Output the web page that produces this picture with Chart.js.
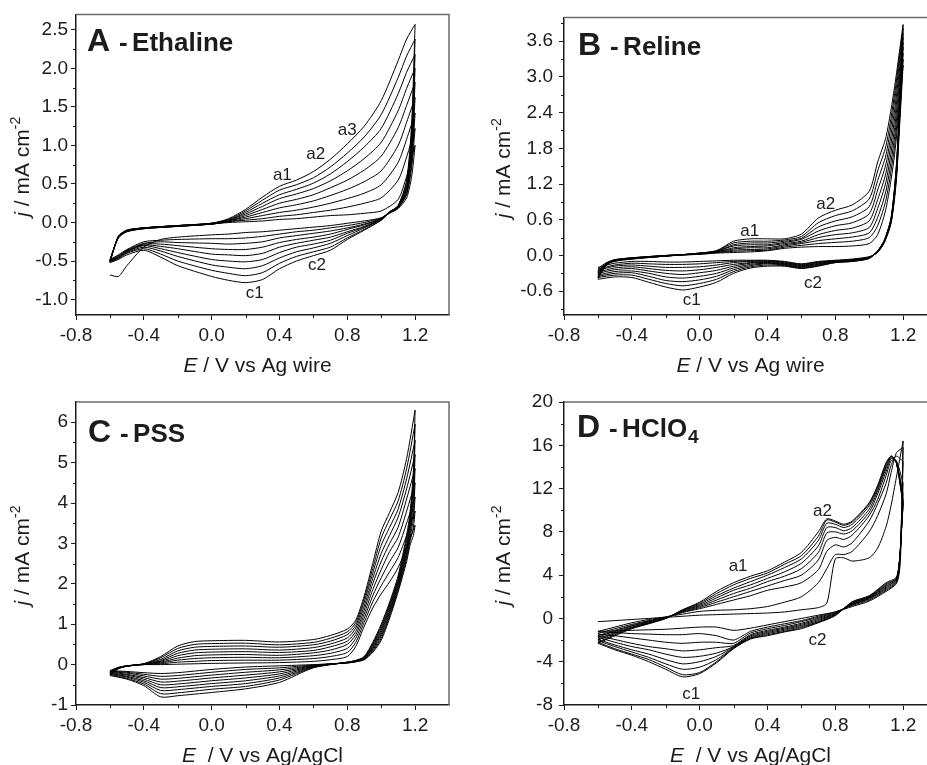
<!DOCTYPE html>
<html>
<head>
<meta charset="utf-8">
<script src="https://cdn.jsdelivr.net/npm/chart.js@4.4.1/dist/chart.umd.min.js"></script>
<style>
  html, body { margin: 0; padding: 0; background: #fff; width: 927px; height: 765px; overflow: hidden; }
  .panel { position: absolute; }
</style>
</head>
<body>
<div class="panel" style="left:0;top:0"><canvas id="chartA" width="463" height="382"></canvas></div>
<div class="panel" style="left:463px;top:0"><canvas id="chartB" width="474" height="382"></canvas></div>
<div class="panel" style="left:0;top:382px"><canvas id="chartC" width="463" height="383"></canvas></div>
<div class="panel" style="left:463px;top:382px"><canvas id="chartD" width="474" height="383"></canvas></div>
<script>
// shared E axis
const xTicks = [-0.8, -0.4, 0, 0.4, 0.8, 1.2];
const xMinor = [-0.6, -0.2, 0.2, 0.6, 1.0];

// ---- A - Ethaline (j in mA cm-2), 9 cycles: forward sweep then reverse sweep
const eFwdA = [-0.6, -0.55, -0.5, -0.4, -0.2, 0, 0.1, 0.2, 0.3, 0.4, 0.5, 0.6, 0.7, 0.8, 0.9, 1.0, 1.1, 1.15, 1.2];
const eRevA = [1.2, 1.18, 1.15, 1.1, 1.05, 1.0, 0.9, 0.8, 0.7, 0.6, 0.5, 0.4, 0.3, 0.2, 0.1, 0, -0.2, -0.3, -0.4, -0.5, -0.55, -0.6];
const jFwdA = [
  [-0.5, -0.2, -0.12, -0.08, -0.05, -0.02, 0.0, 0.01, 0.02, 0.04, 0.05, 0.07, 0.09, 0.1, 0.12, 0.15, 0.3, 0.6, 1.0],
  [-0.48, -0.2, -0.12, -0.08, -0.05, -0.02, 0.01, 0.03, 0.05, 0.08, 0.1, 0.13, 0.16, 0.2, 0.25, 0.32, 0.55, 0.85, 1.22],
  [-0.49, -0.19, -0.11, -0.08, -0.05, -0.02, 0.01, 0.05, 0.09, 0.13, 0.16, 0.2, 0.25, 0.31, 0.38, 0.49, 0.78, 1.08, 1.42],
  [-0.5, -0.19, -0.11, -0.07, -0.05, -0.02, 0.02, 0.07, 0.13, 0.19, 0.23, 0.28, 0.35, 0.43, 0.53, 0.67, 1.0, 1.3, 1.62],
  [-0.5, -0.19, -0.11, -0.07, -0.04, -0.02, 0.02, 0.09, 0.17, 0.25, 0.3, 0.36, 0.45, 0.55, 0.68, 0.86, 1.23, 1.52, 1.82],
  [-0.5, -0.18, -0.11, -0.07, -0.04, -0.01, 0.03, 0.11, 0.21, 0.31, 0.37, 0.44, 0.54, 0.67, 0.83, 1.04, 1.45, 1.74, 2.0],
  [-0.51, -0.18, -0.1, -0.07, -0.04, -0.01, 0.03, 0.13, 0.25, 0.36, 0.43, 0.51, 0.63, 0.79, 0.98, 1.22, 1.67, 1.95, 2.18],
  [-0.51, -0.18, -0.1, -0.07, -0.04, -0.01, 0.04, 0.15, 0.29, 0.42, 0.49, 0.58, 0.72, 0.9, 1.11, 1.4, 1.88, 2.16, 2.38],
  [-0.52, -0.18, -0.1, -0.07, -0.04, -0.01, 0.05, 0.17, 0.33, 0.47, 0.55, 0.66, 0.82, 1.02, 1.25, 1.58, 2.1, 2.38, 2.57]
];
const jRevA = [
  [1.0, 0.6, 0.32, 0.18, 0.12, 0.06, 0.02, -0.01, -0.04, -0.06, -0.08, -0.1, -0.12, -0.13, -0.15, -0.16, -0.19, -0.22, -0.32, -0.56, -0.7, -0.68],
  [1.22, 0.72, 0.36, 0.19, 0.13, 0.06, 0.0, -0.04, -0.07, -0.1, -0.12, -0.15, -0.18, -0.2, -0.21, -0.21, -0.22, -0.23, -0.25, -0.35, -0.42, -0.48],
  [1.42, 0.8, 0.38, 0.19, 0.13, 0.05, -0.02, -0.07, -0.11, -0.14, -0.17, -0.2, -0.25, -0.27, -0.28, -0.27, -0.26, -0.25, -0.27, -0.36, -0.43, -0.49],
  [1.62, 0.88, 0.4, 0.2, 0.13, 0.05, -0.03, -0.09, -0.15, -0.19, -0.22, -0.26, -0.32, -0.35, -0.35, -0.34, -0.3, -0.28, -0.28, -0.37, -0.44, -0.5],
  [1.82, 0.95, 0.43, 0.2, 0.14, 0.05, -0.05, -0.12, -0.19, -0.23, -0.27, -0.32, -0.4, -0.43, -0.42, -0.41, -0.34, -0.31, -0.29, -0.37, -0.45, -0.5],
  [2.0, 1.02, 0.45, 0.21, 0.14, 0.04, -0.06, -0.14, -0.23, -0.28, -0.32, -0.39, -0.48, -0.51, -0.5, -0.48, -0.39, -0.34, -0.3, -0.38, -0.45, -0.5],
  [2.18, 1.1, 0.48, 0.21, 0.14, 0.04, -0.07, -0.17, -0.27, -0.33, -0.38, -0.46, -0.56, -0.6, -0.58, -0.55, -0.44, -0.37, -0.32, -0.39, -0.46, -0.51],
  [2.38, 1.2, 0.52, 0.22, 0.13, 0.03, -0.09, -0.2, -0.32, -0.38, -0.44, -0.53, -0.65, -0.69, -0.66, -0.62, -0.5, -0.41, -0.34, -0.4, -0.47, -0.51],
  [2.57, 1.3, 0.55, 0.22, 0.13, 0.03, -0.1, -0.22, -0.36, -0.43, -0.5, -0.6, -0.74, -0.78, -0.75, -0.7, -0.56, -0.45, -0.36, -0.42, -0.48, -0.52]
];
const yTicksA = [-1.0, -0.5, 0, 0.5, 1.0, 1.5, 2.0, 2.5];
const yMinorA = [-0.75, -0.25, 0.25, 0.75, 1.25, 1.75, 2.25];
const annA = ['a1', 'a2', 'a3', 'c1', 'c2'];
const annEA = [0.417, 0.614, 0.80, 0.254, 0.622];
const annJA = [0.61, 0.89, 1.19, -0.92, -0.56];

// ---- B - Reline
const eFwdB = [-0.6, -0.55, -0.5, -0.4, -0.2, 0, 0.1, 0.2, 0.3, 0.4, 0.5, 0.6, 0.7, 0.8, 0.9, 1.0, 1.05, 1.1, 1.15, 1.2];
const eRevB = [1.2, 1.18, 1.16, 1.13, 1.09, 1.05, 1.0, 0.9, 0.8, 0.7, 0.6, 0.5, 0.4, 0.3, 0.2, 0.1, 0, -0.1, -0.2, -0.3, -0.4, -0.5, -0.6];
const jFwdB = [
  [-0.22, -0.12, -0.07, -0.04, 0.0, 0.02, 0.04, 0.05, 0.06, 0.08, 0.12, 0.14, 0.15, 0.15, 0.16, 0.2, 0.35, 0.8, 1.7, 3.2],
  [-0.25, -0.13, -0.07, -0.04, 0.0, 0.02, 0.05, 0.07, 0.08, 0.09, 0.14, 0.17, 0.2, 0.22, 0.24, 0.3, 0.5, 0.95, 1.85, 3.3],
  [-0.27, -0.13, -0.08, -0.04, 0.0, 0.03, 0.05, 0.09, 0.1, 0.11, 0.16, 0.2, 0.25, 0.28, 0.31, 0.38, 0.64, 1.1, 2.0, 3.4],
  [-0.29, -0.14, -0.08, -0.05, 0.0, 0.03, 0.06, 0.11, 0.13, 0.13, 0.18, 0.22, 0.3, 0.35, 0.38, 0.47, 0.79, 1.25, 2.15, 3.5],
  [-0.31, -0.14, -0.08, -0.05, -0.01, 0.03, 0.06, 0.13, 0.15, 0.16, 0.2, 0.24, 0.35, 0.42, 0.46, 0.58, 0.94, 1.4, 2.3, 3.58],
  [-0.33, -0.15, -0.09, -0.05, -0.01, 0.03, 0.07, 0.16, 0.18, 0.18, 0.22, 0.27, 0.41, 0.5, 0.55, 0.7, 1.1, 1.55, 2.45, 3.66],
  [-0.35, -0.15, -0.09, -0.05, -0.01, 0.04, 0.07, 0.18, 0.21, 0.21, 0.24, 0.29, 0.48, 0.58, 0.65, 0.82, 1.26, 1.7, 2.6, 3.74],
  [-0.37, -0.16, -0.09, -0.06, -0.01, 0.04, 0.08, 0.21, 0.24, 0.24, 0.26, 0.32, 0.55, 0.67, 0.75, 0.95, 1.42, 1.85, 2.72, 3.82],
  [-0.39, -0.16, -0.1, -0.06, -0.01, 0.04, 0.08, 0.24, 0.28, 0.28, 0.28, 0.36, 0.63, 0.76, 0.85, 1.08, 1.57, 2.0, 2.84, 3.88]
];
const jRevB = [
  [3.2, 2.2, 1.25, 0.55, 0.22, 0.05, -0.02, -0.06, -0.08, -0.1, -0.14, -0.1, -0.08, -0.08, -0.08, -0.09, -0.1, -0.11, -0.11, -0.1, -0.1, -0.13, -0.2],
  [3.3, 2.3, 1.3, 0.57, 0.23, 0.06, -0.03, -0.07, -0.09, -0.11, -0.15, -0.11, -0.09, -0.09, -0.1, -0.12, -0.14, -0.15, -0.15, -0.14, -0.13, -0.16, -0.23],
  [3.4, 2.35, 1.33, 0.58, 0.23, 0.06, -0.03, -0.07, -0.09, -0.12, -0.16, -0.12, -0.1, -0.1, -0.12, -0.16, -0.19, -0.2, -0.2, -0.18, -0.16, -0.18, -0.25],
  [3.5, 2.4, 1.36, 0.6, 0.24, 0.06, -0.03, -0.08, -0.1, -0.13, -0.17, -0.13, -0.11, -0.12, -0.15, -0.2, -0.24, -0.26, -0.25, -0.22, -0.19, -0.21, -0.28],
  [3.58, 2.45, 1.4, 0.61, 0.24, 0.07, -0.04, -0.08, -0.1, -0.14, -0.18, -0.14, -0.12, -0.13, -0.18, -0.25, -0.29, -0.32, -0.3, -0.26, -0.22, -0.24, -0.3],
  [3.66, 2.5, 1.42, 0.62, 0.25, 0.07, -0.04, -0.09, -0.11, -0.15, -0.19, -0.15, -0.13, -0.15, -0.21, -0.3, -0.35, -0.38, -0.36, -0.3, -0.26, -0.27, -0.33],
  [3.74, 2.5, 1.45, 0.63, 0.25, 0.07, -0.04, -0.09, -0.11, -0.16, -0.2, -0.16, -0.14, -0.17, -0.24, -0.35, -0.41, -0.44, -0.42, -0.35, -0.29, -0.3, -0.35],
  [3.82, 2.55, 1.48, 0.64, 0.26, 0.08, -0.05, -0.1, -0.12, -0.17, -0.21, -0.17, -0.16, -0.19, -0.27, -0.4, -0.47, -0.51, -0.47, -0.4, -0.33, -0.33, -0.37],
  [3.88, 2.6, 1.5, 0.65, 0.26, 0.08, -0.05, -0.1, -0.12, -0.18, -0.22, -0.18, -0.18, -0.21, -0.3, -0.45, -0.53, -0.58, -0.53, -0.45, -0.37, -0.36, -0.4]
];
const yTicksB = [-0.6, 0, 0.6, 1.2, 1.8, 2.4, 3.0, 3.6];
const yMinorB = [-0.9, -0.3, 0.3, 0.9, 1.5, 2.1, 2.7, 3.3, 3.9];
const annB = ['a1', 'a2', 'c1', 'c2'];
const annEB = [0.295, 0.744, -0.047, 0.669];
const annJB = [0.40, 0.86, -0.745, -0.47];

// ---- C - PSS
const eFwdC = [-0.6, -0.55, -0.5, -0.4, -0.3, -0.2, -0.1, 0, 0.2, 0.4, 0.6, 0.7, 0.8, 0.85, 0.9, 0.95, 1.0, 1.05, 1.1, 1.15, 1.2];
const eRevC = [1.2, 1.19, 1.17, 1.15, 1.1, 1.05, 1.0, 0.95, 0.9, 0.85, 0.8, 0.6, 0.4, 0.2, 0, -0.2, -0.3, -0.4, -0.5, -0.6];
const jFwdC = [
  [-0.15, -0.07, -0.03, 0.0, 0.0, 0.01, 0.02, 0.03, 0.04, 0.05, 0.08, 0.12, 0.2, 0.45, 0.95, 1.4, 1.75, 2.05, 2.4, 2.9, 3.45],
  [-0.16, -0.07, -0.03, 0.0, 0.02, 0.06, 0.08, 0.1, 0.11, 0.11, 0.15, 0.2, 0.3, 0.55, 1.05, 1.55, 1.95, 2.3, 2.65, 3.2, 3.8],
  [-0.18, -0.08, -0.03, 0.0, 0.04, 0.11, 0.15, 0.17, 0.18, 0.17, 0.22, 0.28, 0.4, 0.65, 1.15, 1.7, 2.15, 2.55, 2.9, 3.5, 4.15],
  [-0.19, -0.08, -0.03, 0.01, 0.06, 0.16, 0.22, 0.24, 0.25, 0.23, 0.29, 0.36, 0.5, 0.74, 1.25, 1.85, 2.35, 2.8, 3.15, 3.8, 4.5],
  [-0.21, -0.09, -0.04, 0.01, 0.08, 0.22, 0.29, 0.31, 0.32, 0.3, 0.35, 0.44, 0.58, 0.82, 1.35, 2.0, 2.55, 3.0, 3.4, 4.1, 4.85],
  [-0.22, -0.09, -0.04, 0.01, 0.1, 0.28, 0.36, 0.38, 0.39, 0.36, 0.42, 0.51, 0.66, 0.9, 1.45, 2.13, 2.75, 3.2, 3.65, 4.35, 5.2],
  [-0.24, -0.1, -0.04, 0.02, 0.13, 0.34, 0.43, 0.45, 0.46, 0.43, 0.49, 0.58, 0.74, 0.97, 1.55, 2.26, 2.95, 3.4, 3.85, 4.6, 5.55],
  [-0.25, -0.1, -0.04, 0.02, 0.17, 0.4, 0.5, 0.52, 0.53, 0.49, 0.55, 0.65, 0.81, 1.04, 1.63, 2.38, 3.13, 3.6, 4.05, 4.85, 5.95],
  [-0.27, -0.1, -0.04, 0.02, 0.2, 0.46, 0.57, 0.59, 0.6, 0.56, 0.62, 0.72, 0.88, 1.1, 1.7, 2.5, 3.3, 3.77, 4.26, 5.1, 6.3]
];
const jRevC = [
  [3.45, 3.2, 2.95, 2.55, 1.8, 1.15, 0.6, 0.3, 0.12, 0.07, 0.04, 0.0, -0.03, -0.06, -0.12, -0.2, -0.22, -0.2, -0.17, -0.15],
  [3.8, 3.4, 3.05, 2.63, 1.85, 1.2, 0.65, 0.33, 0.13, 0.07, 0.04, -0.01, -0.08, -0.12, -0.19, -0.27, -0.29, -0.24, -0.19, -0.16],
  [4.15, 3.6, 3.15, 2.7, 1.9, 1.25, 0.7, 0.36, 0.14, 0.08, 0.05, -0.02, -0.13, -0.19, -0.26, -0.34, -0.36, -0.28, -0.21, -0.18],
  [4.5, 3.8, 3.25, 2.78, 1.95, 1.3, 0.75, 0.39, 0.15, 0.08, 0.05, -0.03, -0.18, -0.26, -0.33, -0.41, -0.43, -0.32, -0.24, -0.19],
  [4.85, 4.0, 3.35, 2.85, 2.0, 1.35, 0.8, 0.42, 0.16, 0.09, 0.05, -0.04, -0.23, -0.33, -0.4, -0.48, -0.5, -0.36, -0.26, -0.21],
  [5.2, 4.2, 3.45, 2.92, 2.05, 1.4, 0.85, 0.45, 0.17, 0.09, 0.05, -0.05, -0.28, -0.4, -0.47, -0.55, -0.57, -0.4, -0.29, -0.22],
  [5.55, 4.4, 3.55, 3.0, 2.1, 1.45, 0.9, 0.48, 0.18, 0.1, 0.06, -0.06, -0.33, -0.47, -0.54, -0.62, -0.64, -0.44, -0.31, -0.24],
  [5.95, 4.6, 3.65, 3.1, 2.15, 1.5, 0.95, 0.51, 0.19, 0.1, 0.06, -0.07, -0.38, -0.54, -0.61, -0.7, -0.72, -0.48, -0.34, -0.25],
  [6.3, 4.8, 3.75, 3.2, 2.2, 1.55, 1.0, 0.55, 0.2, 0.1, 0.06, -0.08, -0.44, -0.6, -0.69, -0.77, -0.8, -0.52, -0.36, -0.27]
];
const yTicksC = [-1, 0, 1, 2, 3, 4, 5, 6];
const yMinorC = [-0.5, 0.5, 1.5, 2.5, 3.5, 4.5, 5.5];

// ---- D - HClO4
const eFwdD = [-0.6, -0.5, -0.4, -0.3, -0.2, -0.1, 0, 0.1, 0.2, 0.3, 0.4, 0.5, 0.6, 0.7, 0.75, 0.8, 0.85, 0.9, 1.0, 1.05, 1.1, 1.13, 1.16, 1.2];
const eRevD = [1.2, 1.19, 1.18, 1.16, 1.1, 1.0, 0.9, 0.8, 0.7, 0.6, 0.5, 0.4, 0.3, 0.2, 0.1, 0, -0.1, -0.2, -0.3, -0.4, -0.5, -0.6];
const jFwdD = [
  [-0.3, -0.2, -0.1, 0, 0.1, 0.2, 0.3, 0.35, 0.4, 0.45, 0.5, 0.6, 0.8, 1.0, 1.4, 5.5, 5.6, 5.3, 5.6, 6.5, 8.5, 10.5, 13.0, 16.4],
  [-1.2, -0.8, -0.4, -0.1, 0.15, 0.4, 0.65, 0.75, 0.8, 0.9, 1.1, 1.5, 2.0, 3.3, 4.6, 5.9, 5.9, 6.2, 8.0, 9.5, 11.5, 13.5, 15.3, 15.8],
  [-1.4, -0.95, -0.55, -0.2, 0.1, 0.55, 0.9, 1.3, 1.7, 2.1, 2.6, 2.9, 3.3, 4.5, 6.2, 6.8, 6.6, 7.0, 9.0, 10.6, 12.5, 14.2, 15.0, 14.5],
  [-1.6, -1.1, -0.65, -0.25, 0.1, 0.6, 1.0, 1.5, 2.0, 2.5, 3.0, 3.5, 4.0, 5.4, 7.2, 7.5, 7.3, 7.7, 9.5, 11.0, 13.2, 14.6, 14.6, 12.5],
  [-1.7, -1.2, -0.7, -0.3, 0.05, 0.65, 1.1, 1.7, 2.3, 2.8, 3.4, 3.9, 4.6, 6.1, 7.9, 8.0, 7.8, 8.1, 9.8, 11.5, 13.6, 14.8, 14.5, 11.5],
  [-1.9, -1.3, -0.8, -0.35, 0.0, 0.7, 1.2, 1.9, 2.6, 3.1, 3.7, 4.3, 5.1, 6.7, 8.4, 8.4, 8.1, 8.4, 10.1, 11.8, 13.9, 14.9, 14.4, 11.0],
  [-2.0, -1.4, -0.85, -0.4, 0.0, 0.75, 1.3, 2.1, 2.8, 3.4, 4.0, 4.7, 5.5, 7.2, 8.8, 8.7, 8.4, 8.7, 10.4, 12.0, 14.1, 15.0, 14.4, 10.8],
  [-2.2, -1.5, -0.9, -0.45, 0.0, 0.8, 1.4, 2.3, 3.1, 3.7, 4.2, 5.0, 5.8, 7.6, 9.1, 8.9, 8.6, 8.9, 10.6, 12.2, 14.3, 15.0, 14.4, 10.6],
  [-2.3, -1.6, -0.95, -0.5, 0.0, 0.8, 1.5, 2.5, 3.3, 3.9, 4.4, 5.2, 6.1, 8.0, 9.2, 9.0, 8.7, 9.0, 10.7, 12.3, 14.4, 15.0, 14.4, 10.5]
];
const jRevD = [
  [16.4, 8, 4.5, 3.2, 2.5, 1.6, 1.1, 0.6, 0.3, 0.0, -0.3, -0.6, -0.9, -1.1, -0.8, -0.8, -0.9, -1.0, -1.05, -1.1, -1.15, -1.2],
  [15.8, 9, 5, 3.3, 2.6, 1.7, 1.2, 0.6, 0.2, -0.2, -0.5, -0.8, -1.2, -2.0, -1.6, -1.4, -1.5, -1.5, -1.45, -1.4, -1.3, -1.25],
  [14.5, 9, 5.5, 3.4, 2.7, 1.8, 1.25, 0.55, 0.1, -0.3, -0.65, -0.95, -1.35, -2.3, -2.2, -2.2, -2.3, -2.2, -2.0, -1.8, -1.6, -1.45],
  [12.5, 8.5, 5.5, 3.5, 2.8, 1.85, 1.3, 0.5, 0.0, -0.45, -0.8, -1.1, -1.5, -2.5, -2.7, -2.9, -3.0, -2.8, -2.6, -2.3, -1.95, -1.6],
  [11.5, 8, 5.5, 3.6, 2.9, 1.9, 1.35, 0.45, -0.1, -0.55, -0.9, -1.2, -1.6, -2.6, -3.2, -3.5, -3.6, -3.3, -2.9, -2.6, -2.2, -1.75],
  [11, 8, 5.5, 3.6, 3.0, 1.95, 1.4, 0.4, -0.2, -0.65, -1.0, -1.3, -1.7, -2.65, -3.5, -4.0, -4.2, -3.8, -3.3, -2.9, -2.45, -1.95],
  [10.8, 8, 5.5, 3.7, 3.1, 2.0, 1.45, 0.35, -0.3, -0.75, -1.1, -1.4, -1.8, -2.7, -3.8, -4.5, -4.7, -4.2, -3.6, -3.1, -2.6, -2.05],
  [10.6, 8, 5.5, 3.7, 3.2, 2.05, 1.5, 0.3, -0.35, -0.85, -1.2, -1.5, -1.85, -2.75, -4.0, -5.0, -5.2, -4.5, -3.8, -3.3, -2.8, -2.2],
  [10.5, 8, 5.5, 3.8, 3.3, 2.1, 1.55, 0.25, -0.4, -0.95, -1.25, -1.6, -1.9, -2.8, -4.1, -5.1, -5.4, -4.7, -4.0, -3.4, -2.9, -2.3]
];
const yTicksD = [-8, -4, 0, 4, 8, 12, 16, 20];
const yMinorD = [-6, -2, 2, 6, 10, 14, 18];
const annD = ['a1', 'a2', 'c1', 'c2'];
const annED = [0.227, 0.724, -0.049, 0.695];
const annJD = [4.8, 9.9, -7.0, -2.05];

const FONT = '"Liberation Sans", Arial, sans-serif';
const INK = '#1e1b1c';

function loops(eF, eR, jF, jR) {
  return jF.map((f, k) => ({
    data: eF.map((e, i) => ({ x: e, y: f[i] })).concat(eR.map((e, i) => ({ x: e, y: jR[k][i] }))),
    showLine: true,
    borderColor: '#000',
    borderWidth: 1,
    pointRadius: 0,
    tension: 0.25
  }));
}

function drawParts(ctx, parts, x, y) {
  parts.forEach(p => {
    ctx.font = p[1] + ' ' + FONT;
    ctx.fillText(p[0], x, y + (p[2] || 0));
    x += ctx.measureText(p[0]).width;
  });
}
function partsWidth(ctx, parts) {
  return parts.reduce((w, p) => { ctx.font = p[1] + ' ' + FONT; return w + ctx.measureText(p[0]).width; }, 0);
}

const decor = {
  id: 'decor',
  afterDraw(chart, args, o) {
    const ctx = chart.ctx, a = chart.chartArea, xs = chart.scales.x, ys = chart.scales.y;
    ctx.save();
    // top and right frame
    ctx.strokeStyle = '#6a6a6a';
    ctx.lineWidth = 1.5;
    ctx.beginPath();
    ctx.moveTo(a.left, a.top); ctx.lineTo(a.right, a.top); ctx.lineTo(a.right, a.bottom);
    ctx.stroke();
    // minor ticks
    ctx.strokeStyle = INK;
    ctx.lineWidth = 1;
    ctx.beginPath();
    xMinor.forEach(v => { const p = Math.round(xs.getPixelForValue(v)) + 0.5; ctx.moveTo(p, a.bottom); ctx.lineTo(p, a.bottom + 3); });
    o.yMinor.forEach(v => { const p = Math.round(ys.getPixelForValue(v)) + 0.5; ctx.moveTo(a.left, p); ctx.lineTo(a.left - 3, p); });
    ctx.stroke();

    ctx.fillStyle = INK;
    ctx.textAlign = 'left';
    ctx.textBaseline = 'alphabetic';
    // panel title
    let tx = a.left + o.titleDx, ty = a.top + o.titleDy;
    ctx.font = 'bold 32px ' + FONT;
    ctx.fillText(o.letter, tx, ty);
    tx += ctx.measureText(o.letter).width + 9;
    ctx.font = 'bold 26px ' + FONT;
    ctx.fillText('-', tx, ty);
    tx += 13;
    ctx.fillText(o.name, tx, ty);
    if (o.sub) {
      tx += ctx.measureText(o.name).width;
      ctx.font = 'bold 19px ' + FONT;
      ctx.fillText(o.sub, tx + 1, ty + 6);
    }

    // peak labels
    if (o.ann) {
      ctx.font = '17px ' + FONT;
      ctx.textAlign = 'center';
      ctx.textBaseline = 'middle';
      o.ann.forEach((t, i) => ctx.fillText(t, xs.getPixelForValue(o.annE[i]), ys.getPixelForValue(o.annJ[i])));
      ctx.textAlign = 'left';
      ctx.textBaseline = 'alphabetic';
    }

    // x title
    const xp = [['E', 'italic 21px'], [o.xTitle, '21px']];
    drawParts(ctx, xp, (a.left + a.right) / 2 + (o.xTitleDx || 0) - partsWidth(ctx, xp) / 2, a.bottom + 57);

    // y title
    const yp = [['j', 'italic 21px'], [' / mA cm', '21px'], ['-2', '14px', -9]];
    ctx.translate(o.yTitleX, (a.top + a.bottom) / 2 + 2);
    ctx.rotate(-Math.PI / 2);
    drawParts(ctx, yp, -partsWidth(ctx, yp) / 2, 7);
    ctx.restore();
  }
};

function axis(min, max, ticks, dec, size, pad) {
  return {
    type: 'linear',
    min: min,
    max: max,
    afterBuildTicks: s => { s.ticks = ticks.map(v => ({ value: v })); },
    afterFit: s => { if (s.isHorizontal()) s.height = size; else s.width = size; },
    ticks: {
      font: { family: FONT, size: 19 },
      color: INK,
      padding: pad,
      maxRotation: 0,
      autoSkip: false,
      callback: v => Number(v).toFixed(dec)
    },
    grid: { drawOnChartArea: false, drawTicks: true, tickLength: 5, color: INK, lineWidth: 1 },
    border: { display: true, color: INK, width: 1.5 }
  };
}

function panel(id, p) {
  new Chart(document.getElementById(id), {
    type: 'scatter',
    data: { datasets: loops(p.eF, p.eR, p.jF, p.jR) },
    options: {
      responsive: false,
      animation: false,
      devicePixelRatio: 1,
      layout: { autoPadding: false, padding: { left: 0, top: p.top, right: p.right, bottom: 0 } },
      plugins: { legend: { display: false }, tooltip: { enabled: false }, decor: p.decor },
      scales: {
        x: axis(-0.8, 1.4, xTicks, 1, p.xh, 4),
        y: axis(p.yMin, p.yMax, p.yTicks, p.dec, p.yw, p.ypad)
      }
    },
    plugins: [decor]
  });
}

panel('chartA', {
  eF: eFwdA, eR: eRevA, jF: jFwdA, jR: jRevA, yMin: -1.2, yMax: 2.7, yTicks: yTicksA, dec: 1,
  top: 13, right: 14, xh: 67, yw: 76, ypad: 3,
  decor: { yMinor: yMinorA, letter: 'A', name: 'Ethaline', titleDx: 11, titleDy: 37, ann: annA, annE: annEA, annJ: annJA, xTitle: ' / V vs Ag wire', xTitleDx: -5, yTitleX: 22 }
});
panel('chartB', {
  eF: eFwdB, eR: eRevB, jF: jFwdB, jR: jRevB, yMin: -1.0, yMax: 4.0, yTicks: yTicksB, dec: 1,
  top: 13, right: 0, xh: 67, yw: 101, ypad: 6,
  decor: { yMinor: yMinorB, letter: 'B', name: 'Reline', titleDx: 14, titleDy: 38, ann: annB, annE: annEB, annJ: annJB, xTitle: ' / V vs Ag wire', yTitleX: 40 }
});
panel('chartC', {
  eF: eFwdC, eR: eRevC, jF: jFwdC, jR: jRevC, yMin: -1, yMax: 6.5, yTicks: yTicksC, dec: 0,
  top: 20, right: 14, xh: 60, yw: 76, ypad: 3,
  decor: { yMinor: yMinorC, letter: 'C', name: 'PSS', titleDx: 12, titleDy: 40, xTitle: '  / V vs Ag/AgCl', yTitleX: 22 }
});
panel('chartD', {
  eF: eFwdD, eR: eRevD, jF: jFwdD, jR: jRevD, yMin: -8, yMax: 20, yTicks: yTicksD, dec: 0,
  top: 20, right: 0, xh: 60, yw: 101, ypad: 6,
  decor: { yMinor: yMinorD, letter: 'D', name: 'HClO', sub: '4', titleDx: 13, titleDy: 35, ann: annD, annE: annED, annJ: annJD, xTitle: '  / V vs Ag/AgCl', yTitleX: 40 }
});
</script>
</body>
</html>
